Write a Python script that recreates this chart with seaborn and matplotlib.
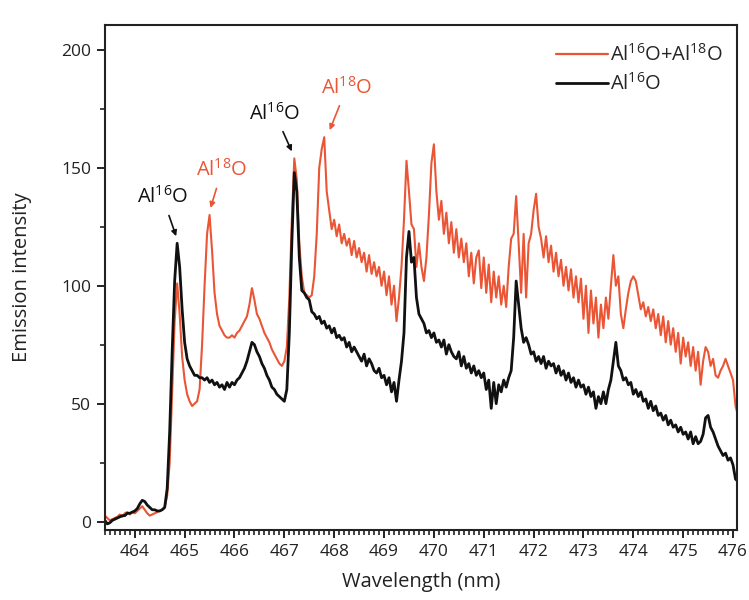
import numpy as np
import pandas as pd
import matplotlib
matplotlib.use("Agg")
import matplotlib.pyplot as plt
from matplotlib.ticker import MultipleLocator
from matplotlib.lines import Line2D
import seaborn as sns

# Wavelength sampling grid (nm), 0.05 nm steps
wavelength = np.round(np.arange(463.40, 476.101, 0.05), 2)

# Emission spectrum of the Al16O-only sample
al16o = [
    0.5, -1.0, -0.5, 0.5, 1.0, 1.5, 2.0, 2.5, 2.5, 3.5,
    3.5, 4.0, 4.5, 5.5, 7.5, 9.0, 8.5, 7.0, 6.0, 5.0,
    5.0, 4.5, 4.5, 5.0, 6.0, 14, 38, 72, 102, 118,
    108, 90, 76, 69, 66, 64, 62, 62, 61, 61,
    60, 61, 59, 60, 58, 59, 57, 58, 56, 59,
    57, 59, 58, 60, 61, 63, 65, 68, 72, 76,
    75, 72, 70, 67, 65, 62, 60, 57, 56, 54,
    53, 52, 51, 56, 80, 118, 148, 140, 112, 98,
    97, 95, 94, 89, 88, 86, 87, 84, 85, 82,
    83, 80, 82, 78, 79, 77, 78, 74, 76, 72,
    74, 72, 70, 68, 71, 66, 69, 67, 64, 63,
    65, 61, 62, 58, 61, 55, 59, 51, 60, 68,
    80, 112, 123, 110, 112, 95, 88, 86, 84, 80,
    81, 78, 80, 76, 77, 74, 77, 71, 75, 72,
    70, 69, 72, 66, 70, 65, 67, 63, 66, 62,
    64, 61, 63, 56, 60, 48, 59, 50, 58, 55,
    60, 57, 61, 64, 78, 102, 92, 82, 76, 78,
    75, 71, 72, 68, 70, 67, 70, 65, 68, 66,
    67, 63, 66, 62, 64, 60, 63, 59, 61, 57,
    60, 57, 58, 54, 57, 53, 55, 48, 53, 50,
    55, 50, 56, 60, 68, 76, 66, 64, 60, 61,
    58, 59, 54, 56, 53, 55, 51, 52, 48, 51,
    47, 49, 45, 46, 43, 45, 41, 43, 40, 41,
    38, 40, 37, 38, 35, 38, 33, 36, 33, 34,
    37, 44, 45, 40, 38, 35, 32, 30, 28, 29,
    26, 27, 24, 18, 17,
]

# Emission spectrum of the mixed Al16O + Al18O sample
al16o_al18o = [
    2.5, 1.5, 0.5, 1.0, 1.5, 2.0, 3.0, 2.0, 3.5, 4.0,
    3.0, 4.0, 3.5, 4.5, 5.5, 6.5, 5.0, 3.5, 2.5, 3.0,
    3.5, 4.0, 4.5, 5.0, 6.0, 11, 25, 55, 85, 101,
    88, 70, 60, 54, 51, 49, 50, 51, 56, 75,
    100, 122, 130, 115, 97, 88, 83, 81, 79, 78,
    78, 79, 78, 80, 81, 83, 85, 87, 92, 99,
    94, 88, 86, 83, 80, 78, 76, 73, 71, 69,
    67, 66, 68, 74, 95, 128, 154, 145, 118, 104,
    97, 96, 95, 96, 104, 122, 150, 158, 163, 140,
    132, 124, 128, 121, 126, 118, 122, 117, 120, 113,
    119, 112, 116, 110, 114, 106, 113, 105, 110, 104,
    108, 100, 106, 96, 104, 92, 100, 85, 95, 108,
    128, 153, 140, 126, 124, 108, 118, 108, 102, 112,
    130, 152, 160, 140, 128, 136, 122, 131, 118, 127,
    114, 124, 112, 120, 110, 118, 104, 114, 101, 112,
    115, 99, 112, 97, 109, 93, 106, 95, 104, 92,
    100, 91, 108, 120, 122, 138, 118, 97, 122, 95,
    118, 122, 132, 139, 125, 120, 112, 121, 110, 117,
    106, 114, 104, 111, 100, 108, 98, 107, 95, 104,
    93, 103, 86, 100, 80, 98, 84, 95, 78, 92,
    82, 95, 86, 100, 113, 100, 104, 88, 82, 90,
    97, 102, 104, 102, 96, 90, 93, 87, 91, 85,
    90, 82, 88, 79, 87, 76, 85, 75, 82, 72,
    80, 67, 78, 70, 76, 66, 74, 64, 72, 58,
    68, 74, 72, 66, 69, 62, 61, 64, 66, 69,
    66, 63, 60, 49, 45,
]

series_names = ["Al$^{\\mathregular{16}}$O+Al$^{\\mathregular{18}}$O",
                "Al$^{\\mathregular{16}}$O"]
red = "#EA5535"
black = "#111111"

df = pd.concat([
    pd.DataFrame({"wavelength": wavelength, "intensity": al16o_al18o, "sample": series_names[0]}),
    pd.DataFrame({"wavelength": wavelength, "intensity": al16o, "sample": series_names[1]}),
])

sns.set_theme(style="ticks")
plt.rcParams["font.family"] = ["Open Sans", "DejaVu Sans"]
plt.rcParams["mathtext.fontset"] = "custom"
plt.rcParams["mathtext.rm"] = "Open Sans"
plt.rcParams["mathtext.it"] = "Open Sans:italic"
plt.rcParams["mathtext.bf"] = "Open Sans:bold"

fig = plt.figure(figsize=(7.49, 6.0), dpi=100)
ax = fig.add_axes([0.140, 0.117, 0.844, 0.841])

sns.lineplot(data=df[df["sample"] == series_names[0]], x="wavelength", y="intensity",
             color=red, lw=1.5, ax=ax, estimator=None, sort=False, legend=False)
sns.lineplot(data=df[df["sample"] == series_names[1]], x="wavelength", y="intensity",
             color=black, lw=2.0, ax=ax, estimator=None, sort=False, legend=False)

ax.set_xlim(463.4, 476.08)
ax.set_ylim(-3.5, 210.5)
ax.xaxis.set_major_locator(MultipleLocator(1))
ax.xaxis.set_minor_locator(MultipleLocator(0.1))
ax.yaxis.set_major_locator(MultipleLocator(50))
ax.yaxis.set_minor_locator(MultipleLocator(25))
ax.tick_params(axis="both", which="major", direction="out", length=6, width=1.4,
               labelsize=12.5, colors="#222222", pad=4)
ax.tick_params(axis="both", which="minor", direction="out", length=3.5, width=1.2,
               colors="#222222")
for side in ["top", "right", "bottom", "left"]:
    ax.spines[side].set_linewidth(1.5)
    ax.spines[side].set_color("#222222")

ax.set_xlabel("Wavelength (nm)", fontsize=14.5, color="#222222", labelpad=9)
ax.set_ylabel("Emission intensity", fontsize=14.5, color="#222222", labelpad=21)

# Peak labels
peak_labels = [
    ("Al$^{\\mathregular{16}}$O", black, (464.83, 121), (464.56, 137.5)),
    ("Al$^{\\mathregular{18}}$O", red, (465.52, 133), (465.75, 149)),
    ("Al$^{\\mathregular{16}}$O", black, (467.15, 157), (466.81, 173)),
    ("Al$^{\\mathregular{18}}$O", red, (467.91, 166), (468.25, 184)),
]
for text, col, tip, pos in peak_labels:
    ax.annotate(text, xy=tip, xytext=pos, ha="center", va="center",
                fontsize=14.5, color=col,
                arrowprops=dict(arrowstyle="-|>", color=col, lw=1.2,
                                mutation_scale=8, shrinkA=3, shrinkB=0))

handles = [Line2D([], [], color=red, lw=1.6), Line2D([], [], color=black, lw=2.0)]
ax.legend(handles, series_names, loc="upper right", frameon=False, fontsize=14.5,
          handlelength=2.6, handletextpad=0.08, labelspacing=0.35,
          bbox_to_anchor=(1.0, 0.99), borderaxespad=0.3)

fig.savefig("out.png", dpi=100)
